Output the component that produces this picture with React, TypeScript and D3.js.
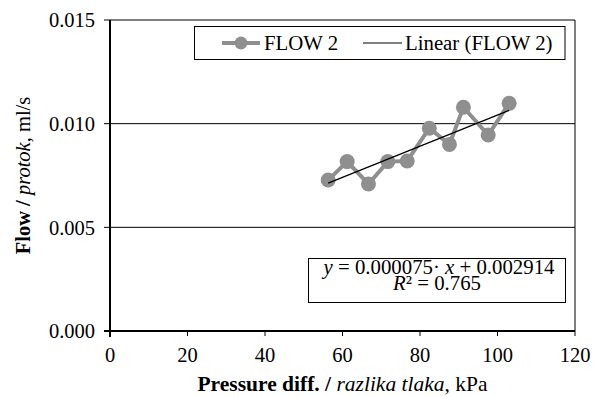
import React from "react";
import * as d3 from "d3";

const pressure = [56.3, 61.2, 66.7, 71.7, 76.7, 82.4, 87.6, 91.2, 97.6, 103.0];
const flow = [0.00728, 0.00817, 0.00709, 0.00817, 0.0082, 0.00978, 0.009, 0.01079, 0.00945, 0.01098];
const slope = 0.000075;
const intercept = 0.002914;
const r2 = "0.765";
const xTicks = [0, 20, 40, 60, 80, 100, 120];
const yTicks = [0, 0.005, 0.01, 0.015];
const seriesName = "FLOW 2";

const W = 602, H = 396;
const L = 110, R = 575, T = 20, B = 331;
const FONT = "'Liberation Serif', 'Times New Roman', serif";
const GRAY = "#8f8f8f";

export default function App() {
  const x = d3.scaleLinear().domain([0, 120]).range([L, R]);
  const y = d3.scaleLinear().domain([0, 0.015]).range([B, T]);
  const pts = pressure.map((p, i) => [x(p), y(flow[i])] as [number, number]);
  const line = d3.line()(pts) || "";
  const x0 = d3.min(pressure)!, x1 = d3.max(pressure)!;
  return (
    <svg width={W} height={H} style={{ position: "absolute", left: 0, top: 0, fontFamily: FONT }}>
      <rect x={0} y={0} width={W} height={H} fill="#fff" />
      {yTicks.filter(t => t > 0).map(t => (
        <line key={t} x1={L} x2={R} y1={y(t)} y2={y(t)} stroke="#000" strokeWidth={1} />
      ))}
      <line x1={R} x2={R} y1={T} y2={B} stroke="#000" strokeWidth={1} />
      <path d={line} fill="none" stroke={GRAY} strokeWidth={4} />
      {pts.map((p, i) => <circle key={i} cx={p[0]} cy={p[1]} r={7.5} fill={GRAY} />)}
      <line x1={x(x0)} y1={y(slope * x0 + intercept)} x2={x(x1)} y2={y(slope * x1 + intercept)} stroke="#000" strokeWidth={1.3} />
      {/* axes */}
      <line x1={L} x2={L} y1={T} y2={B + 6} stroke="#000" strokeWidth={2} />
      <line x1={L - 6} x2={R} y1={B} y2={B} stroke="#000" strokeWidth={2} />
      {yTicks.map(t => (
        <g key={t}>
          <line x1={L - 6} x2={L} y1={y(t)} y2={y(t)} stroke="#000" strokeWidth={1} />
          <text x={L - 15} y={y(t)} dy="0.35em" textAnchor="end" fontSize={20.5}>{d3.format(".3f")(t)}</text>
        </g>
      ))}
      {xTicks.map(t => (
        <g key={t}>
          <line x1={x(t)} x2={x(t)} y1={B} y2={B + 5} stroke="#000" strokeWidth={1} />
          <text x={x(t)} y={362} textAnchor="middle" fontSize={20.5}>{t}</text>
        </g>
      ))}
      <text x={(L + R) / 2} y={391} textAnchor="middle" fontSize={21.5}>
        <tspan fontWeight="bold">Pressure diff. / </tspan>
        <tspan fontStyle="italic">razlika tlaka</tspan>
        <tspan>, kPa</tspan>
      </text>
      <text transform={`translate(30,${(T + B) / 2}) rotate(-90)`} textAnchor="middle" fontSize={20.5}>
        <tspan fontWeight="bold">Flow / </tspan>
        <tspan fontStyle="italic">protok</tspan>
        <tspan>, ml/s</tspan>
      </text>
      {/* legend */}
      <rect x={194.5} y={26.5} width={370.5} height={33} fill="#fff" stroke="#000" strokeWidth={1} />
      <line x1={222} x2={260} y1={43} y2={43} stroke={GRAY} strokeWidth={4} />
      <circle cx={241} cy={43} r={6.5} fill={GRAY} />
      <text x={264} y={49.5} fontSize={20.8}>{seriesName}</text>
      <line x1={363} x2={402} y1={43} y2={43} stroke="#000" strokeWidth={1} />
      <text x={405} y={49.5} fontSize={20.8}>Linear ({seriesName})</text>
      {/* equation */}
      <rect x={308.5} y={258.5} width={257} height={44} fill="#fff" stroke="#000" strokeWidth={1} />
      <text x={439} y={274} textAnchor="middle" fontSize={20.8}>
        <tspan fontStyle="italic">y</tspan> = {slope.toFixed(6)}· <tspan fontStyle="italic">x</tspan> + {intercept.toFixed(6)}
      </text>
      <text x={437} y={290} textAnchor="middle" fontSize={20.8}>
        <tspan fontStyle="italic">R</tspan>² = {r2}
      </text>
    </svg>
  );
}
